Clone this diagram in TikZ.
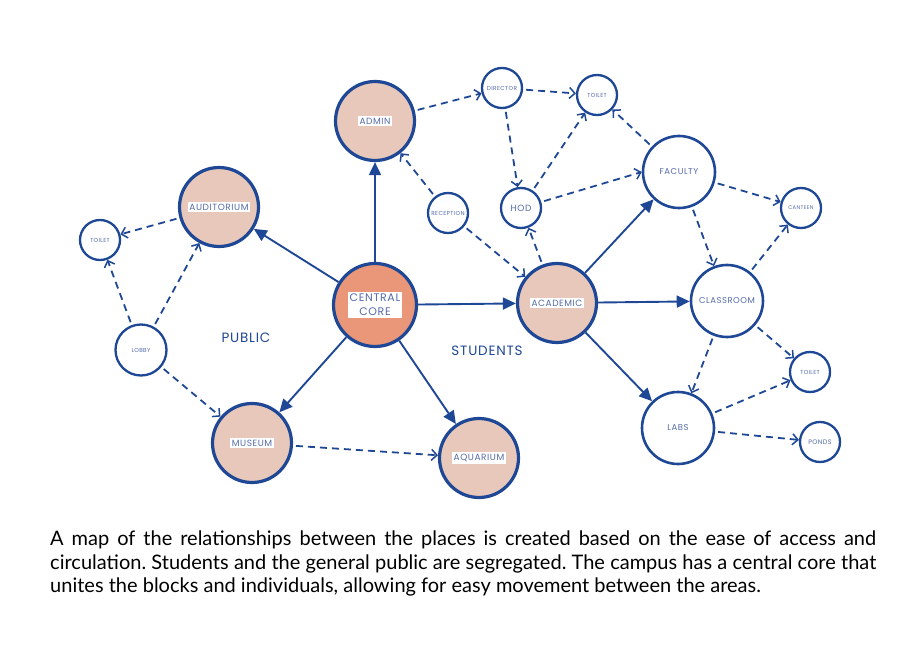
\documentclass[tikz,border=0pt]{standalone}
\usepackage{fontspec}
\setmainfont{Lato}
\newfontfamily\handfont[LetterSpace=6]{Poppins}
\usetikzlibrary{arrows.meta}

\definecolor{mapblue}{RGB}{30,72,150}
\definecolor{tagblue}{RGB}{85,108,170}
\definecolor{blockfill}{RGB}{232,200,187}
\definecolor{corefill}{RGB}{234,150,120}

\begin{document}
\begin{tikzpicture}[x=1pt, y=-1pt,
    block/.style={circle, draw=mapblue, line width=3.2pt, fill=blockfill,
      inner sep=0pt, minimum size=79pt},
    room/.style={circle, draw=mapblue, line width=2.6pt, fill=white,
      inner sep=0pt, minimum size=72pt, text=tagblue,
      font=\handfont\fontsize{8.5}{10}\selectfont},
    spot/.style={circle, draw=mapblue, line width=2.3pt, fill=white,
      inner sep=0pt, minimum size=40pt, text=tagblue,
      font=\handfont\fontsize{5.8}{7}\selectfont},
    tag/.style={fill=white, inner sep=1.8pt, text=tagblue,
      font=\handfont\fontsize{9}{10}\selectfont},
    zone/.style={text=mapblue, font=\handfont\fontsize{13.5}{15}\selectfont},
    link/.style={draw=mapblue, line width=1.9pt,
      -{Triangle[length=13pt, width=12pt]}},
    walk/.style={draw=mapblue, line width=1.8pt, dash pattern=on 7pt off 5pt,
      shorten <=3pt, -{Straight Barb[length=5.5pt, width=11pt, line width=1.5pt]}}]
  \useasboundingbox (0,0) rectangle (916,663);

  % main blocks
  \node[block, fill=corefill, minimum size=83pt,
    label={[tag, align=center, font=\handfont\fontsize{11}{14}\selectfont]center:CENTRAL\\CORE}]
    (core) at (375,305) {};
  \node[block, label={[tag]center:ADMIN}] (admin) at (375,121) {};
  \node[block, label={[tag]center:AUDITORIUM}] (audi) at (219,207) {};
  \node[block, label={[tag]center:MUSEUM}] (museum) at (252,443) {};
  \node[block, label={[tag]center:AQUARIUM}] (aqua) at (479,458) {};
  \node[block, label={[tag]center:ACADEMIC}] (acad) at (557,303) {};

  % public side
  \node[spot] (toiletL) at (100,240) {TOILET};
  \node[spot, minimum size=51pt] (lobby) at (141,350) {LOBBY};

  % admin side
  \node[spot] (director) at (502,88) {DIRECTOR};
  \node[spot] (toiletT) at (597,95) {TOILET};
  \node[spot] (recep) at (448,213) {RECEPTION};
  \node[spot, font=\handfont\fontsize{9}{10}\selectfont] (hod) at (521,208) {HOD};

  % student side
  \node[room] (faculty) at (679,172) {FACULTY};
  \node[room] (class) at (727,301) {CLASSROOM};
  \node[room] (labs) at (678,428) {LABS};
  \node[spot, font=\handfont\fontsize{5.3}{6}\selectfont] (canteen) at (801,208) {CANTEEN};
  \node[spot] (toiletR) at (810,372) {TOILET};
  \node[spot, font=\handfont\fontsize{6.5}{7}\selectfont] (ponds) at (820,442) {PONDS};

  \node[zone] (public) at (246,338) {PUBLIC};
  \node[zone] (students) at (487,351) {STUDENTS};

  % core links
  \draw[link] (core) -- (admin);
  \draw[link] (core) -- (audi);
  \draw[link] (core) -- (museum);
  \draw[link] (core) -- (aqua);
  \draw[link] (core) -- (acad);
  \draw[link] (acad) -- (faculty);
  \draw[link] (acad) -- (class);
  \draw[link] (acad) -- (labs);

  % circulation
  \draw[walk] (audi) -- (toiletL);
  \draw[walk] (lobby) -- (toiletL);
  \draw[walk] (lobby) -- (audi);
  \draw[walk] (lobby) -- (museum);
  \draw[walk] (museum) -- (aqua);
  \draw[walk] (admin) -- (director);
  \draw[walk] (recep) -- (admin);
  \draw[walk] (recep) -- (acad);
  \draw[walk] (director) -- (toiletT);
  \draw[walk] (director) -- (hod);
  \draw[walk] (hod) -- (toiletT);
  \draw[walk] (hod) -- (faculty.west);
  \draw[walk] (acad) -- (hod);
  \draw[walk] (faculty) -- (toiletT);
  \draw[walk] (faculty) -- (canteen);
  \draw[walk] (faculty) -- (class);
  \draw[walk] (class) -- (canteen);
  \draw[walk] (class) -- (toiletR);
  \draw[walk] (class) -- (labs);
  \draw[walk] (labs) -- (toiletR);
  \draw[walk] (labs) -- (ponds);

  \node[anchor=north west, inner sep=0pt, text width=826pt, align=justify,
    font=\frenchspacing\fontsize{20}{23.3}\selectfont] (caption) at (50,531)
    {A map of the relationships between the places is created based on the ease of access and\linebreak
     circulation. Students and the general public are segregated. The campus has a central core that\linebreak
     unites the blocks and individuals, allowing for easy movement between the areas.};
\end{tikzpicture}
\end{document}
